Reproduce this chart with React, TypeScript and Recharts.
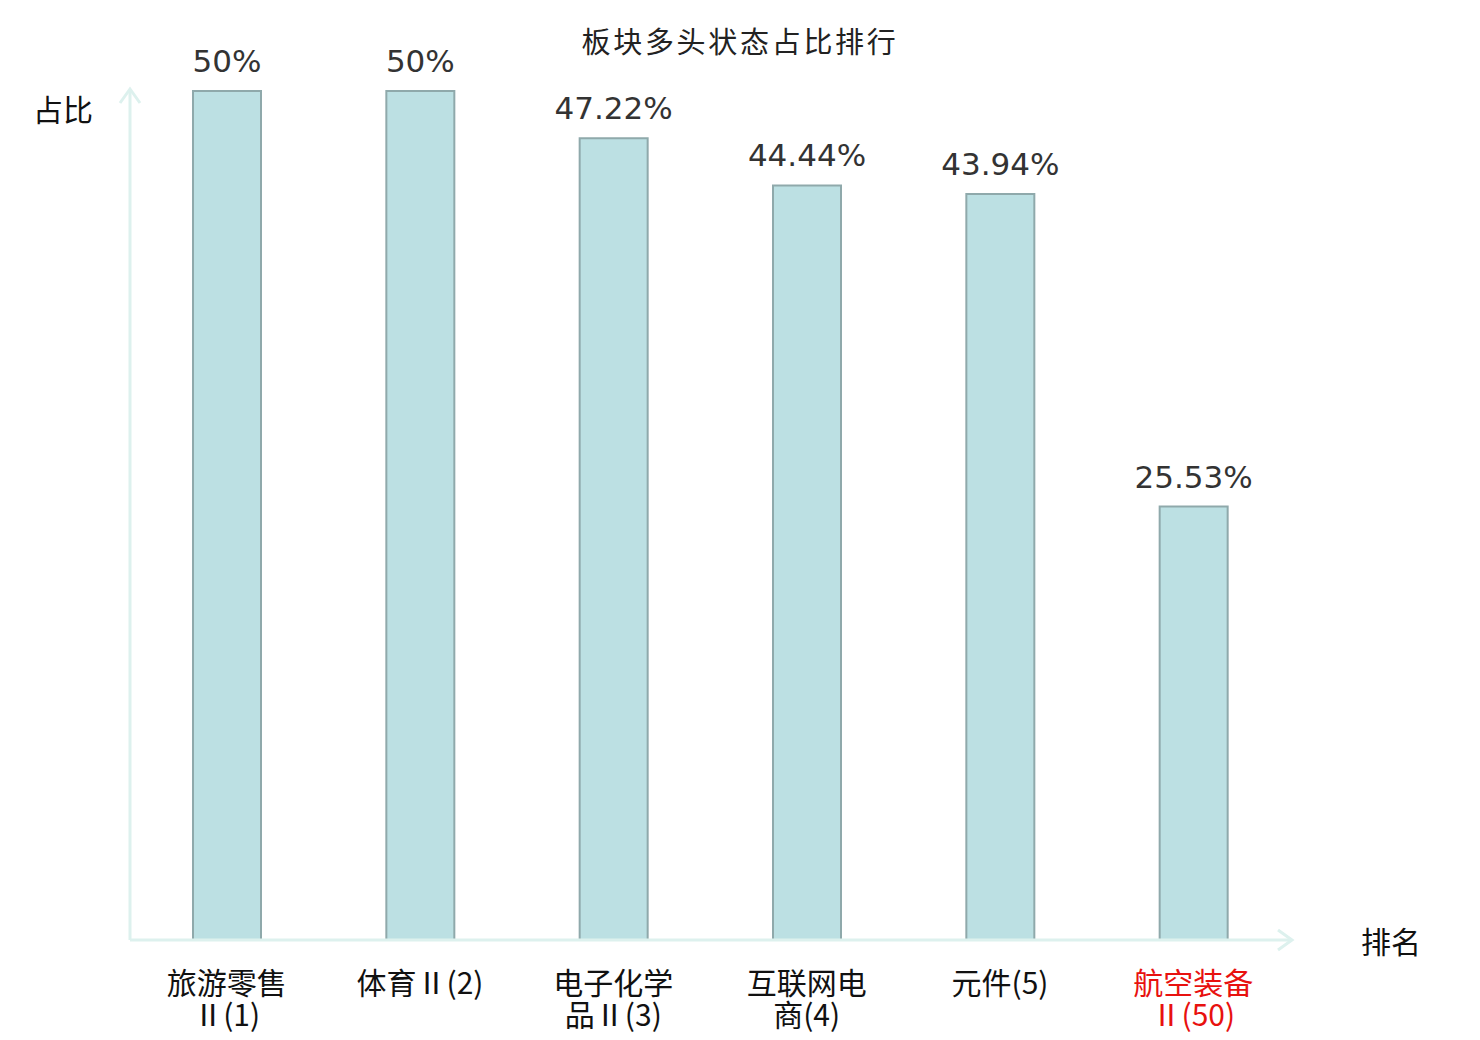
import React from "react";
import { Bar, BarChart, LabelList, XAxis, YAxis } from "recharts";

const categories = ["旅游零售Ⅱ(1)", "体育Ⅱ(2)", "电子化学品Ⅱ(3)", "互联网电商(4)", "元件(5)", "航空装备Ⅱ(50)"];
const shares = [50, 50, 47.22, 44.44, 43.94, 25.53];
const highlighted = "航空装备Ⅱ(50)";

const TITLE = "板块多头状态占比排行";
const Y_NAME = "占比";
const X_NAME = "排名";

const AXIS_COLOR = "#ddf1ee";
const CJK = '"Noto Sans CJK SC", sans-serif';
const LATIN = '"DejaVu Sans", "Noto Sans CJK SC", sans-serif';

const rows = categories.map((name, i) => ({ name, share: shares[i] }));

// crude width-based wrap: CJK = 1, everything else = 0.5, max 4.2 per line
function wrap(label: string): string[] {
  const lines: string[] = [];
  let cur = "";
  let w = 0;
  for (const ch of label) {
    const cw = /[\u4e00-\u9fff]/.test(ch) ? 1 : 0.5;
    if (w + cw > 4.2 && cur) {
      lines.push(cur);
      cur = "";
      w = 0;
    }
    cur += ch;
    w += cw;
  }
  if (cur) lines.push(cur);
  return lines;
}

function CategoryTick(props: any) {
  const { x, y, payload } = props;
  const lines = wrap(String(payload.value));
  const color = payload.value === highlighted ? "#e8110f" : "#111";
  return (
    <text x={x} y={y + 54} textAnchor="middle" fontSize={30} fontFamily={CJK} fill={color}>
      {lines.map((l, i) => (
        <tspan key={i} x={x} dy={i === 0 ? 0 : 32}>
          {l}
        </tspan>
      ))}
    </text>
  );
}

export default function App() {
  return (
    <div style={{ position: "absolute", left: 0, top: 0, width: 1480, height: 1040, background: "#fff" }}>
      <BarChart
        width={1480}
        height={1040}
        data={rows}
        margin={{ top: 91, right: 190, left: 126, bottom: 98 }}
        barCategoryGap={0}
      >
        <defs>
          <marker
            id="axisArrow"
            markerUnits="userSpaceOnUse"
            markerWidth={20}
            markerHeight={24}
            viewBox="0 0 20 24"
            refX={14}
            refY={12}
            orient="auto-start-reverse"
          >
            <path d="M2,2 L16,12 L2,22" fill="none" stroke={AXIS_COLOR} strokeWidth={3} />
          </marker>
        </defs>
        <text x={740} y={53} textAnchor="middle" fontSize={29} fontFamily={CJK} fill="#222" letterSpacing={2.7}>
          {TITLE}
        </text>
        <text x={63} y={121} textAnchor="middle" fontSize={30} fontFamily={CJK} fill="#111">
          {Y_NAME}
        </text>
        <text x={1391} y={953} textAnchor="middle" fontSize={30} fontFamily={CJK} fill="#111">
          {X_NAME}
        </text>
        <XAxis
          dataKey="name"
          interval={0}
          height={2}
          tickLine={false}
          tickSize={0}
          tickMargin={0}
          axisLine={{ stroke: AXIS_COLOR, strokeWidth: 3, markerEnd: "url(#axisArrow)" }}
          tick={<CategoryTick />}
        />
        <YAxis
          domain={[0, 50]}
          width={4}
          tick={false}
          tickLine={false}
          axisLine={{ stroke: AXIS_COLOR, strokeWidth: 3, markerStart: "url(#axisArrow)" }}
        />
        <Bar
          dataKey="share"
          barSize={68}
          fill="#bce0e3"
          stroke="#8fa9ab"
          strokeWidth={2}
          isAnimationActive={false}
        >
          <LabelList
            dataKey="share"
            position="top"
            offset={19}
            formatter={(v: any) => `${v}%`}
            style={{ fontSize: 31, fontFamily: LATIN, fill: "#333" }}
          />
        </Bar>
      </BarChart>
    </div>
  );
}
